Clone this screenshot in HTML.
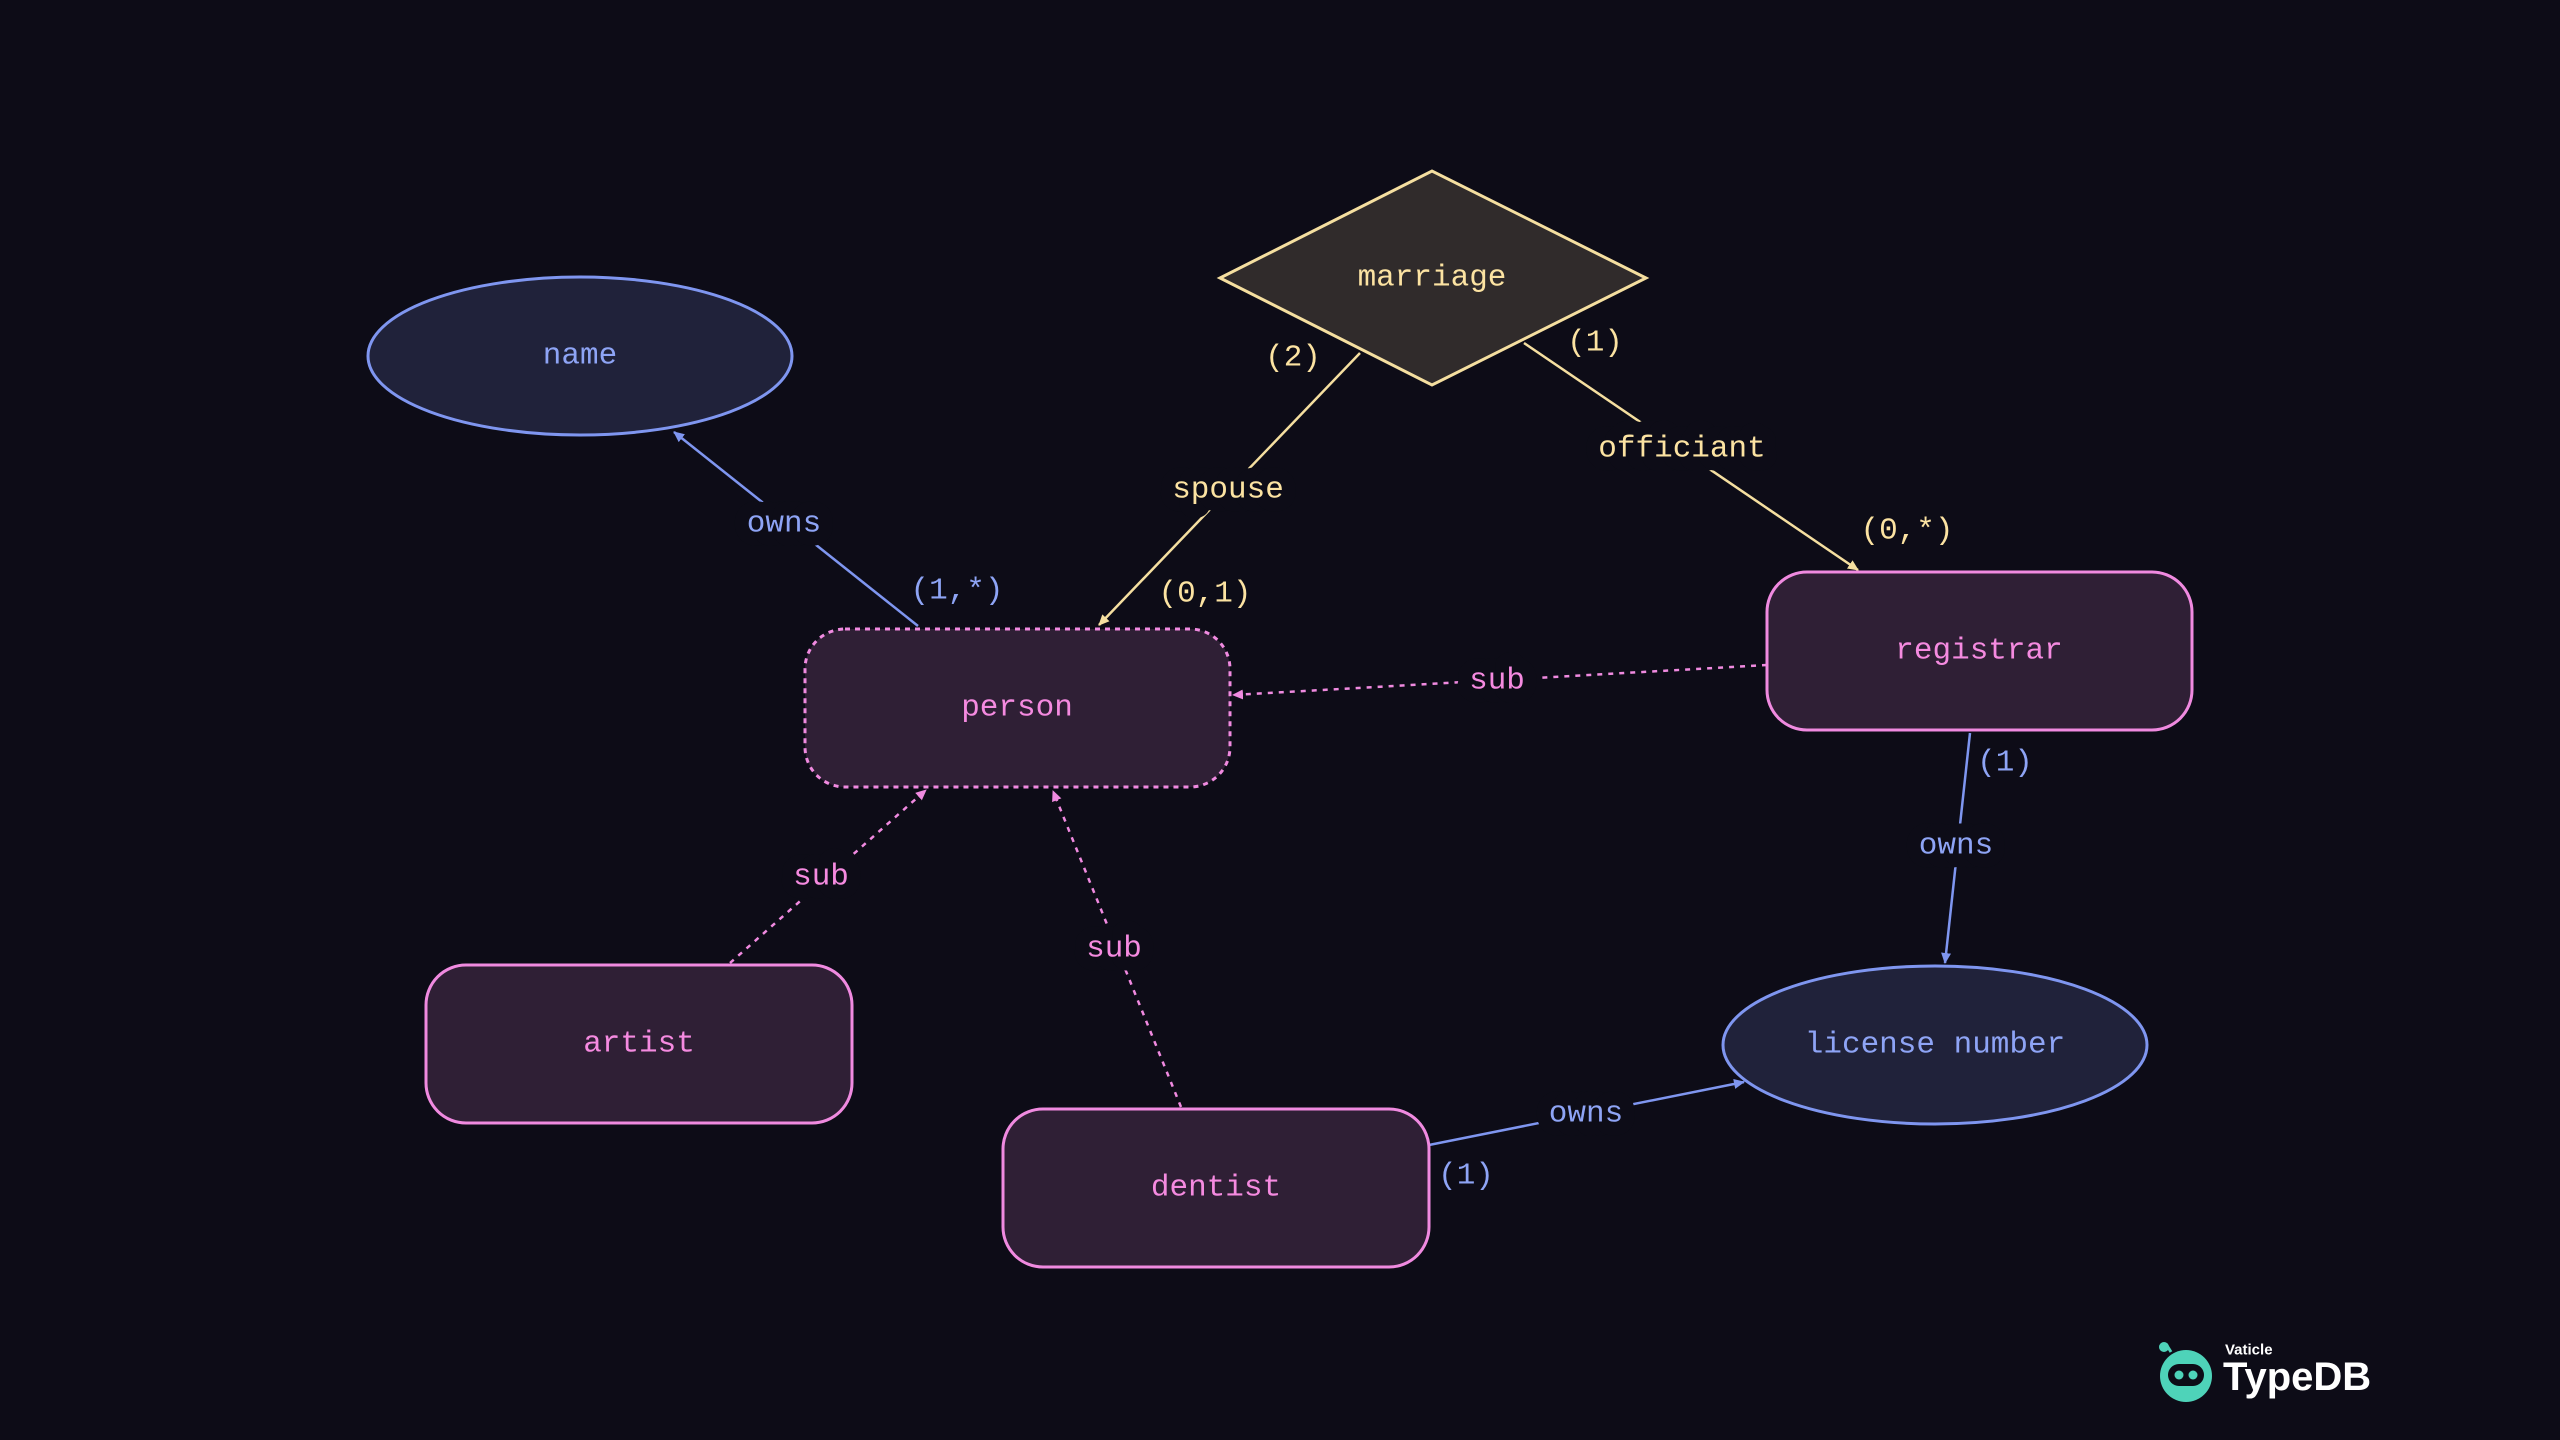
<!DOCTYPE html>
<html><head><meta charset="utf-8"><style>
html,body{margin:0;padding:0;background:#0d0c17;}
svg{display:block;}
text{font-family:"Liberation Mono","DejaVu Sans Mono",monospace;font-size:31px;text-anchor:middle;dominant-baseline:central;}
.lb{paint-order:stroke;stroke:#0d0c17;stroke-width:28px;stroke-linejoin:round;}
.b{fill:#8ea4f5}.y{fill:#fce3a2}.p{fill:#f58ae0}
</style></head><body>
<svg width="2560" height="1440" viewBox="0 0 2560 1440" xmlns="http://www.w3.org/2000/svg">
<defs>
<marker id="ab" markerWidth="12" markerHeight="12" refX="10" refY="5" orient="auto" markerUnits="userSpaceOnUse"><path d="M0,0 L11,5 L0,10 z" fill="#7f96f0"/></marker>
<marker id="ay" markerWidth="12" markerHeight="12" refX="10" refY="5" orient="auto" markerUnits="userSpaceOnUse"><path d="M0,0 L11,5 L0,10 z" fill="#f5dfa0"/></marker>
<marker id="ap" markerWidth="12" markerHeight="12" refX="10" refY="5" orient="auto" markerUnits="userSpaceOnUse"><path d="M0,0 L11,5 L0,10 z" fill="#f08ae0"/></marker>
</defs>
<rect width="2560" height="1440" fill="#0d0c17"/>

<!-- connectors -->
<g stroke-width="2.5" fill="none">
<line x1="918" y1="626" x2="674" y2="432" stroke="#7f96f0" marker-end="url(#ab)"/>
<line x1="1360" y1="353" x2="1099" y2="625" stroke="#f5dfa0" marker-end="url(#ay)"/>
<line x1="1524" y1="343" x2="1858" y2="570" stroke="#f5dfa0" marker-end="url(#ay)"/>
<line x1="1767" y1="665" x2="1233" y2="695" stroke="#f08ae0" stroke-dasharray="5,6" marker-end="url(#ap)"/>
<line x1="1970" y1="733" x2="1945" y2="963" stroke="#7f96f0" marker-end="url(#ab)"/>
<line x1="730" y1="963" x2="926" y2="790" stroke="#f08ae0" stroke-dasharray="5,6" marker-end="url(#ap)"/>
<line x1="1181" y1="1107" x2="1053" y2="791" stroke="#f08ae0" stroke-dasharray="5,6" marker-end="url(#ap)"/>
<line x1="1429" y1="1145" x2="1744" y2="1082" stroke="#7f96f0" marker-end="url(#ab)"/>
</g>

<!-- nodes -->
<ellipse cx="580" cy="356" rx="212" ry="79" fill="#20223a" stroke="#7f96f0" stroke-width="3"/>
<text x="580" y="356" class="b">name</text>
<polygon points="1220,278 1432,171 1646,278 1432,385" fill="#302b2b" stroke="#f5dfa0" stroke-width="3"/>
<text x="1432" y="278" class="y">marriage</text>
<rect x="805" y="629" width="425" height="158" rx="40" fill="#2f1f35" stroke="#f08ae0" stroke-width="3" stroke-dasharray="5,5"/>
<text x="1017" y="708" class="p">person</text>
<rect x="1767" y="572" width="425" height="158" rx="40" fill="#2f1f35" stroke="#f08ae0" stroke-width="3"/>
<text x="1979" y="651" class="p">registrar</text>
<rect x="426" y="965" width="426" height="158" rx="40" fill="#2f1f35" stroke="#f08ae0" stroke-width="3"/>
<text x="639" y="1044" class="p">artist</text>
<rect x="1003" y="1109" width="426" height="158" rx="40" fill="#2f1f35" stroke="#f08ae0" stroke-width="3"/>
<text x="1216" y="1188" class="p">dentist</text>
<ellipse cx="1935" cy="1045" rx="212" ry="79" fill="#20223a" stroke="#7f96f0" stroke-width="3"/>
<text x="1935" y="1045" class="b">license number</text>

<!-- labels -->
<text x="784" y="524" class="b lb">owns</text>
<text x="957" y="591" class="b">(1,*)</text>
<text x="1228" y="490" class="y lb">spouse</text>
<text x="1293" y="358" class="y">(2)</text>
<text x="1205" y="594" class="y">(0,1)</text>
<text x="1682" y="449" class="y lb">officiant</text>
<text x="1595" y="343" class="y">(1)</text>
<text x="1907" y="531" class="y">(0,*)</text>
<text x="1497" y="681" class="p lb">sub</text>
<text x="1956" y="846" class="b lb">owns</text>
<text x="2005" y="763" class="b">(1)</text>
<text x="821" y="877" class="p lb">sub</text>
<text x="1114" y="949" class="p lb">sub</text>
<text x="1586" y="1114" class="b lb">owns</text>
<text x="1466" y="1176" class="b">(1)</text>

<!-- logo -->
<g>
<circle cx="2186" cy="1376" r="26" fill="#4ed3b9"/>
<line x1="2171" y1="1352" x2="2166" y2="1344" stroke="#4ed3b9" stroke-width="3"/>
<circle cx="2164" cy="1347" r="5" fill="#4ed3b9"/>
<rect x="2168" y="1364" width="36" height="22" rx="11" fill="#0d0c17"/>
<circle cx="2179" cy="1375" r="4.5" fill="#4ed3b9"/>
<circle cx="2193" cy="1375" r="4.5" fill="#4ed3b9"/>
<text x="2225" y="1350" style="font-family:'Liberation Sans',sans-serif;font-size:15px;font-weight:bold;text-anchor:start;fill:#fff">Vaticle</text>
<text x="2223" y="1377" style="font-family:'Liberation Sans',sans-serif;font-size:40px;font-weight:bold;text-anchor:start;fill:#fff">TypeDB</text>
</g>
</svg>
</body></html>
